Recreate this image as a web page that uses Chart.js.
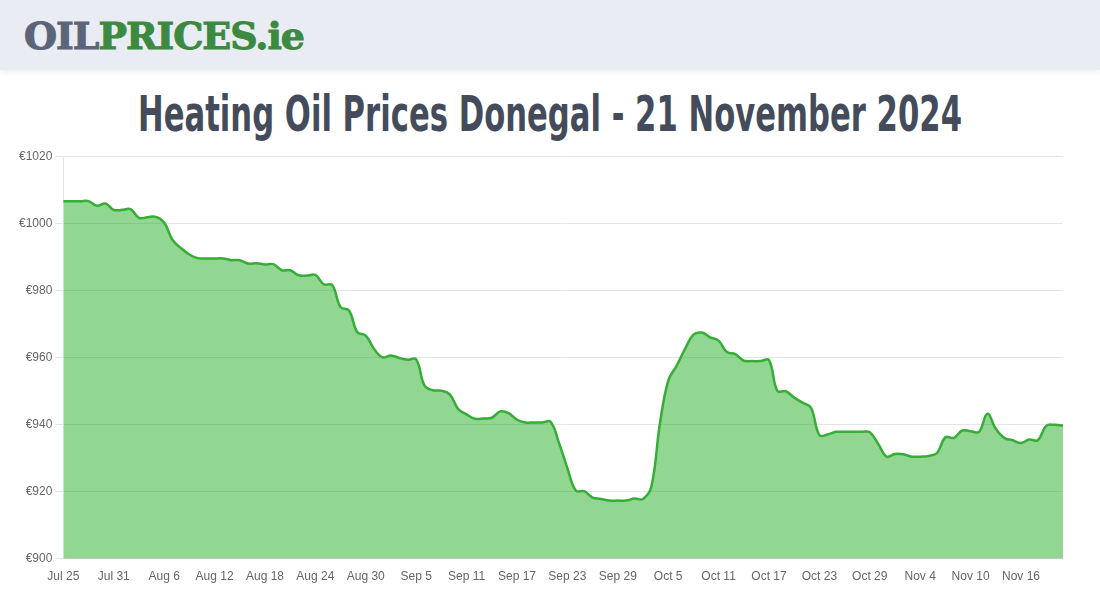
<!DOCTYPE html>
<html>
<head>
<meta charset="utf-8">
<script src="https://cdn.jsdelivr.net/npm/chart.js@4.4.1/dist/chart.umd.min.js"></script>
<style>
  html, body { margin: 0; padding: 0; background: #fff; width: 1100px; height: 600px; overflow: hidden; }
  .header { position: absolute; left: 0; top: 0; width: 1100px; height: 70px; background: #e9ecf3;
            box-shadow: 0 2px 6px rgba(0,0,0,0.08); }
  .logo { position: absolute; left: 24px; top: 14px; font-family: "DejaVu Serif", serif; font-weight: bold;
          font-size: 37px; line-height: 44px; white-space: nowrap; transform-origin: left top; letter-spacing: -1px;
          -webkit-text-stroke: 1px currentColor; }
  .logo .a { color: #5b6479; }
  .logo .b { color: #3b8a3f; }
  .title { position: absolute; left: 550px; top: 84px; font-family: "Liberation Sans Narrow", "DejaVu Sans Condensed", sans-serif;
          font-weight: bold; font-size: 50px; line-height: 60px; color: #444c5b; white-space: nowrap; }
  .wrap { position: absolute; left: 16px; top: 146px; width: 1047px; height: 441px; }
</style>
</head>
<body>
<div class="header"><div class="logo" id="logo"><span class="a">OIL</span><span class="b">PRICES.ie</span></div></div>
<div class="title" id="title">Heating Oil Prices Donegal - 21 November 2024</div>
<div class="wrap"><canvas id="myChart"></canvas></div>
<script>
// dates (one per day)
const dates = [
  'Jul 25','Jul 26','Jul 27','Jul 28','Jul 29','Jul 30','Jul 31',
  'Aug 1','Aug 2','Aug 3','Aug 4','Aug 5','Aug 6','Aug 7','Aug 8','Aug 9','Aug 10','Aug 11','Aug 12','Aug 13','Aug 14','Aug 15',
  'Aug 16','Aug 17','Aug 18','Aug 19','Aug 20','Aug 21','Aug 22','Aug 23','Aug 24','Aug 25','Aug 26','Aug 27','Aug 28','Aug 29','Aug 30','Aug 31',
  'Sep 1','Sep 2','Sep 3','Sep 4','Sep 5','Sep 6','Sep 7','Sep 8','Sep 9','Sep 10','Sep 11','Sep 12','Sep 13','Sep 14','Sep 15',
  'Sep 16','Sep 17','Sep 18','Sep 19','Sep 20','Sep 21','Sep 22','Sep 23','Sep 24','Sep 25','Sep 26','Sep 27','Sep 28','Sep 29','Sep 30',
  'Oct 1','Oct 2','Oct 3','Oct 4','Oct 5','Oct 6','Oct 7','Oct 8','Oct 9','Oct 10','Oct 11','Oct 12','Oct 13','Oct 14','Oct 15',
  'Oct 16','Oct 17','Oct 18','Oct 19','Oct 20','Oct 21','Oct 22','Oct 23','Oct 24','Oct 25','Oct 26','Oct 27','Oct 28','Oct 29','Oct 30','Oct 31',
  'Nov 1','Nov 2','Nov 3','Nov 4','Nov 5','Nov 6','Nov 7','Nov 8','Nov 9','Nov 10','Nov 11','Nov 12','Nov 13','Nov 14','Nov 15',
  'Nov 16','Nov 17','Nov 18','Nov 19','Nov 20','Nov 21'
];

// average price per 1000L
const prices = [
  1006.6, 1006.6, 1006.6, 1006.6, 1005.2, 1005.9, 1004.0, 1004.0, 1004.2, 1001.6,
  1001.8, 1001.9, 1000.2, 995.0, 992.6, 990.7, 989.6, 989.5, 989.5, 989.5,
  989.0, 989.0, 988.0, 988.1, 987.7, 987.8, 986.0, 986.0, 984.5, 984.4,
  984.6, 981.8, 981.6, 975.0, 974.0, 967.5, 966.5, 962.5, 960.0, 960.6,
  959.8, 959.3, 959.4, 951.6, 950.2, 950.1, 949.0, 944.6, 943.0, 941.7,
  941.8, 942.0, 943.9, 943.4, 941.4, 940.6, 940.6, 940.6, 940.8, 934.5,
  927.0, 920.3, 920.1, 918.2, 917.8, 917.3, 917.3, 917.3, 917.9, 917.8,
  921.5, 940.0, 953.0, 957.5, 962.5, 966.8, 967.4, 966.0, 965.0, 961.6,
  961.0, 959.0, 958.9, 958.9, 959.2, 950.0, 949.9, 948.0, 946.5, 945.0,
  936.8, 937.0, 937.8, 937.8, 937.8, 937.8, 937.7, 934.2, 930.4, 931.2,
  931.1, 930.4, 930.4, 930.6, 931.5, 936.2, 936.0, 938.2, 938.0, 937.8,
  943.2, 938.7, 936.0, 935.3, 934.5, 935.5, 935.3, 939.6, 939.9, 939.7
];

const yMin = 900, yMax = 1020, yStep = 20;

// fit logo and title widths
const logo = document.getElementById('logo');
logo.style.transform = 'scaleX(' + (280 / logo.getBoundingClientRect().width) + ')';
const title = document.getElementById('title');
title.style.transform = 'translateX(-50%) scaleX(' + (824 / title.getBoundingClientRect().width) + ')';

const ctx = document.getElementById('myChart').getContext('2d');
const chart = new Chart(ctx, {
  type: 'line',
  data: {
    labels: dates,
    datasets: [{
      label: 'Price',
      data: prices,
      borderColor: '#36ad36',
      backgroundColor: 'rgba(35,173,35,0.5)',
      borderWidth: 2.5,
      fill: true,
      tension: 0.4,
      pointRadius: 0
    }]
  },
  options: {
    responsive: true,
    maintainAspectRatio: false,
    animation: false,
    layout: { padding: { left: 0, right: 0, top: 4, bottom: 0 } },
    plugins: { legend: { display: false }, tooltip: { enabled: false } },
    scales: {
      x: {
        grid: { display: false },
        ticks: {
          autoSkip: false,
          maxRotation: 0,
          color: '#666',
          font: { size: 12 },
          callback: function(v, i) { return i % 6 === 0 && i < 115 ? dates[i] : null; }
        }
      },
      y: {
        min: yMin,
        max: yMax,
        grid: { color: '#e5e5e5' },
        ticks: {
          stepSize: yStep,
          color: '#666',
          font: { size: 12 },
          callback: v => '€' + v
        }
      }
    }
  }
});
</script>
</body>
</html>
